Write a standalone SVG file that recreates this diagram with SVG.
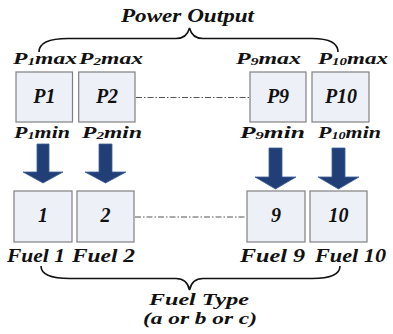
<svg xmlns="http://www.w3.org/2000/svg" width="393" height="334" viewBox="0 0 393 334">
<defs>
<style>
.t{font-family:"Liberation Serif","Times New Roman",serif;font-weight:bold;font-style:italic;fill:#111;}
.box{fill:#eef0f8;stroke:#808080;stroke-width:1.2;}
.lbl{font-size:17px;}
.big{font-size:20px;text-anchor:middle;}
.fuel{font-size:18px;}
.sub{font-size:11px;}
.arrow{fill:#213e76;stroke:#3b5f9c;stroke-width:0.8;}
.dd{stroke:#555;stroke-width:1;fill:none;stroke-dasharray:6 2 1.5 2;}
.brace{fill:none;stroke:#111;stroke-width:1.6;}
</style>
</defs>
<rect width="393" height="334" fill="#ffffff"/>

<g id="title-power">
<text class="t" x="121" y="22" font-size="18.5" textLength="133" lengthAdjust="spacingAndGlyphs">Power Output</text>
</g>
<g id="title-fuel">
<text class="t" x="149" y="305" font-size="17" textLength="100" lengthAdjust="spacingAndGlyphs">Fuel Type</text>
<text class="t" x="143" y="324" font-size="17" textLength="114" lengthAdjust="spacingAndGlyphs">(a or b or c)</text>
</g>

<g id="braces">
<path class="brace" d="M39,52 C39,43 48,38.5 68,38.5 L176,38.5 C184,38.5 188,34 189.5,28 C191,34 195,38.5 203,38.5 L312,38.5 C330,38.5 338,43 338,52"/>
<path class="brace" d="M41,266 C41,274 50,278.5 70,278.5 L176,278.5 C184,278.5 188,283 189.5,290 C191,283 195,278.5 203,278.5 L312,278.5 C331,278.5 340,274 340,266"/>
</g>

<g id="connectors">
<line class="dd" x1="136" y1="97.5" x2="249" y2="97.5"/>
<line class="dd" x1="135" y1="217" x2="246" y2="217"/>
<path class="arrow" d="M37,144 H49 V172 H63 L43,183 L23,172 H37 Z"/>
<path class="arrow" d="M99,144 H112 V172 H126 L105.5,183 L85,172 H99 Z"/>
<path class="arrow" d="M269,148 H282 V177 H296 L275.5,189 L255,177 H269 Z"/>
<path class="arrow" d="M332,148 H345 V177 H359 L338.5,189 L318,177 H332 Z"/>
</g>

<g id="unit-P1">
<text class="t lbl" x="13" y="64" textLength="64" lengthAdjust="spacingAndGlyphs">P<tspan class="sub" dy="1">1</tspan><tspan dy="-1">max</tspan></text>
<rect class="box" x="16" y="72" width="56.5" height="50"/>
<text class="t big" x="44.3" y="103">P1</text>
<text class="t lbl" x="14" y="138" textLength="56" lengthAdjust="spacingAndGlyphs">P<tspan class="sub" dy="1">1</tspan><tspan dy="-1">min</tspan></text>
</g>
<g id="unit-P2">
<text class="t lbl" x="79" y="64" textLength="64" lengthAdjust="spacingAndGlyphs">P<tspan class="sub" dy="1">2</tspan><tspan dy="-1">max</tspan></text>
<rect class="box" x="78.7" y="72" width="56.3" height="50"/>
<text class="t big" x="107" y="103">P2</text>
<text class="t lbl" x="82" y="138" textLength="60" lengthAdjust="spacingAndGlyphs">P<tspan class="sub" dy="1">2</tspan><tspan dy="-1">min</tspan></text>
</g>
<g id="unit-P9">
<text class="t lbl" x="236" y="64" textLength="65" lengthAdjust="spacingAndGlyphs">P<tspan class="sub" dy="1">9</tspan><tspan dy="-1">max</tspan></text>
<rect class="box" x="250" y="72" width="56" height="50"/>
<text class="t big" x="278" y="103">P9</text>
<text class="t lbl" x="240" y="138" textLength="65" lengthAdjust="spacingAndGlyphs">P<tspan class="sub" dy="1">9</tspan><tspan dy="-1">min</tspan></text>
</g>
<g id="unit-P10">
<text class="t lbl" x="318" y="64" textLength="70" lengthAdjust="spacingAndGlyphs">P<tspan class="sub" dy="1">10</tspan><tspan dy="-1">max</tspan></text>
<rect class="box" x="312" y="72" width="57" height="50"/>
<text class="t big" x="341" y="103">P10</text>
<text class="t lbl" x="318" y="138" textLength="63" lengthAdjust="spacingAndGlyphs">P<tspan class="sub" dy="1">10</tspan><tspan dy="-1">min</tspan></text>
</g>

<g id="fuel-1">
<rect class="box" x="14" y="191" width="58" height="51"/>
<text class="t big" x="43" y="222">1</text>
<text class="t fuel" x="7" y="262" textLength="58" lengthAdjust="spacingAndGlyphs">Fuel 1</text>
</g>
<g id="fuel-2">
<rect class="box" x="77" y="191" width="57" height="51"/>
<text class="t big" x="105.5" y="222">2</text>
<text class="t fuel" x="72" y="262" textLength="63" lengthAdjust="spacingAndGlyphs">Fuel 2</text>
</g>
<g id="fuel-9">
<rect class="box" x="247" y="191" width="58" height="51"/>
<text class="t big" x="276" y="222">9</text>
<text class="t fuel" x="240" y="262" textLength="65" lengthAdjust="spacingAndGlyphs">Fuel 9</text>
</g>
<g id="fuel-10">
<rect class="box" x="310" y="191" width="57" height="51"/>
<text class="t big" x="338.5" y="222">10</text>
<text class="t fuel" x="315" y="262" textLength="71" lengthAdjust="spacingAndGlyphs">Fuel 10</text>
</g>
</svg>
